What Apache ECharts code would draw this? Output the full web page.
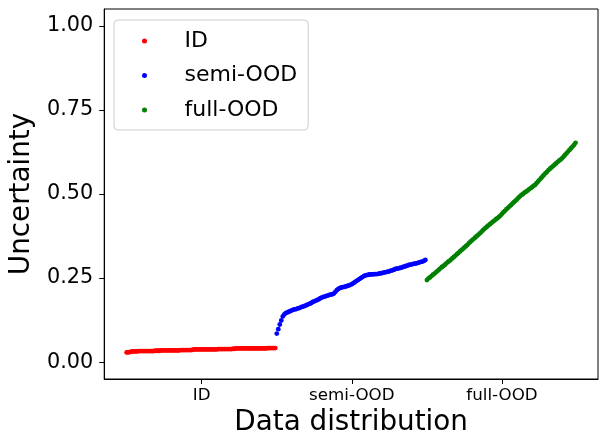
<!DOCTYPE html>
<html>
<head>
<meta charset="utf-8">
<script src="https://cdn.jsdelivr.net/npm/echarts@6/dist/echarts.min.js"></script>
<style>
    html, body { margin: 0; padding: 0; background: #fff; }
    #chart { width: 608px; height: 447px; }
</style>
</head>
<body>
<div id="chart"></div>
<script>
// uncertainty per sample (100 samples each, sorted)
const idValues = [
    0.029, 0.029, 0.030, 0.031, 0.032, 0.032, 0.032, 0.032, 0.033, 0.033,
    0.033, 0.033, 0.033, 0.033, 0.033, 0.033, 0.033, 0.033, 0.033, 0.034,
    0.034, 0.034, 0.034, 0.035, 0.035, 0.035, 0.035, 0.035, 0.035, 0.035,
    0.035, 0.035, 0.035, 0.035, 0.035, 0.035, 0.036, 0.036, 0.036, 0.036,
    0.036, 0.036, 0.036, 0.036, 0.037, 0.038, 0.038, 0.038, 0.038, 0.038,
    0.038, 0.038, 0.038, 0.038, 0.038, 0.038, 0.038, 0.038, 0.038, 0.038,
    0.038, 0.039, 0.039, 0.039, 0.039, 0.039, 0.039, 0.039, 0.039, 0.039,
    0.039, 0.040, 0.040, 0.041, 0.041, 0.041, 0.041, 0.041, 0.041, 0.041,
    0.041, 0.041, 0.041, 0.041, 0.041, 0.041, 0.041, 0.041, 0.041, 0.041,
    0.041, 0.041, 0.041, 0.041, 0.042, 0.042, 0.042, 0.042, 0.042, 0.042
];
const semiValues = [
    0.085, 0.098, 0.112, 0.124, 0.136, 0.142, 0.146, 0.148, 0.150, 0.152,
    0.154, 0.156, 0.157, 0.158, 0.160, 0.161, 0.163, 0.165, 0.166, 0.168,
    0.170, 0.172, 0.174, 0.176, 0.179, 0.181, 0.183, 0.185, 0.187, 0.190,
    0.192, 0.194, 0.195, 0.197, 0.198, 0.200, 0.201, 0.202, 0.204, 0.209,
    0.214, 0.218, 0.220, 0.222, 0.223, 0.224, 0.225, 0.227, 0.228, 0.230,
    0.232, 0.235, 0.238, 0.241, 0.244, 0.247, 0.250, 0.253, 0.256, 0.258,
    0.259, 0.260, 0.261, 0.261, 0.261, 0.262, 0.262, 0.262, 0.263, 0.264,
    0.265, 0.266, 0.267, 0.268, 0.269, 0.270, 0.272, 0.273, 0.275, 0.277,
    0.278, 0.279, 0.280, 0.281, 0.283, 0.284, 0.286, 0.287, 0.289, 0.290,
    0.291, 0.292, 0.293, 0.294, 0.295, 0.297, 0.298, 0.299, 0.301, 0.304
];
const fullValues = [
    0.244, 0.249, 0.252, 0.256, 0.260, 0.263, 0.267, 0.271, 0.275, 0.279,
    0.283, 0.286, 0.290, 0.294, 0.298, 0.301, 0.305, 0.309, 0.313, 0.317,
    0.321, 0.325, 0.329, 0.333, 0.337, 0.341, 0.345, 0.349, 0.354, 0.358,
    0.362, 0.366, 0.370, 0.374, 0.378, 0.382, 0.386, 0.391, 0.395, 0.399,
    0.403, 0.407, 0.410, 0.414, 0.418, 0.421, 0.425, 0.428, 0.432, 0.436,
    0.441, 0.446, 0.450, 0.455, 0.459, 0.463, 0.467, 0.472, 0.476, 0.480,
    0.484, 0.489, 0.493, 0.497, 0.500, 0.504, 0.507, 0.510, 0.514, 0.517,
    0.520, 0.524, 0.527, 0.532, 0.537, 0.542, 0.547, 0.552, 0.557, 0.562,
    0.566, 0.571, 0.575, 0.579, 0.583, 0.587, 0.591, 0.595, 0.599, 0.602,
    0.606, 0.611, 0.616, 0.621, 0.626, 0.631, 0.636, 0.641, 0.646, 0.652
];

const seriesNames = ['ID', 'semi-OOD', 'full-OOD'];
const seriesColors = ['#ff0000', '#0000ff', '#008000'];

// x ticks sit in the middle of each group of samples
const xTickValues = [50, 150, 250];
const xTickLabels = ['ID', 'semi-OOD', 'full-OOD'];
const yTickValues = [0, 0.25, 0.5, 0.75, 1.0];

const FONT = 'DejaVu Sans';

// samples are numbered one after another across the three groups
function toPoints(values, start) {
    return values.map((v, i) => [start + i, v]);
}

const groups = [
    toPoints(idValues, 0),
    toPoints(semiValues, idValues.length),
    toPoints(fullValues, idValues.length + semiValues.length)
];
const total = idValues.length + semiValues.length + fullValues.length;
const xPad = (total - 1) * 0.05;

const chart = echarts.init(document.getElementById('chart'), null, {renderer: 'canvas'});

const option = {
    animation: false,
    backgroundColor: '#ffffff',
    textStyle: {fontFamily: FONT},
    grid: {
        left: 103,
        right: 10,
        top: 9,
        bottom: 68,
        show: true,
        borderColor: '#000000',
        borderWidth: 1,
        backgroundColor: 'transparent',
    },
    legend: {
        orient: 'vertical',
        left: 114,
        top: 20,
        data: seriesNames,
        icon: 'circle',
        itemWidth: 56,
        itemHeight: 5,
        itemGap: 10.5,
        padding: [9, 11, 8, 28],
        backgroundColor: 'rgba(255,255,255,0.8)',
        borderColor: '#cccccc',
        borderWidth: 1,
        borderRadius: 4,
        textStyle: {
            fontFamily: FONT,
            fontSize: 22,
            lineHeight: 24,
            color: '#000000',
            padding: [0, 0, 0, 7],
        },
    },
    xAxis: {
        type: 'value',
        min: -xPad,
        max: total - 1 + xPad,
        name: 'Data distribution',
        nameLocation: 'middle',
        nameGap: 27,
        nameTextStyle: {fontFamily: FONT, fontSize: 27.8, color: '#000000'},
        axisLine: {onZero: false, lineStyle: {color: '#000000', width: 1}},
        axisTick: {show: true, customValues: xTickValues, length: 5, lineStyle: {color: '#000000'}},
        axisLabel: {
            customValues: xTickValues,
            formatter: (v) => xTickLabels[xTickValues.indexOf(v)] || '',
            fontFamily: FONT,
            fontSize: 16.7,
            color: '#000000',
            margin: 8,
        },
        splitLine: {show: false},
    },
    yAxis: {
        type: 'value',
        min: -0.05,
        max: 1.05,
        name: 'Uncertainty',
        nameLocation: 'middle',
        nameGap: 55,
        nameTextStyle: {fontFamily: FONT, fontSize: 27.8, color: '#000000'},
        axisLine: {show: true, onZero: false, lineStyle: {color: '#000000', width: 1}},
        axisTick: {show: true, customValues: yTickValues, length: 5, lineStyle: {color: '#000000'}},
        axisLabel: {
            customValues: yTickValues,
            formatter: (v) => v.toFixed(2),
            fontFamily: FONT,
            fontSize: 20.8,
            color: '#000000',
            margin: 11,
        },
        splitLine: {show: false},
    },
    series: seriesNames.map((name, k) => ({
        name: name,
        type: 'scatter',
        data: groups[k],
        symbol: 'circle',
        symbolSize: 4.8,
        itemStyle: {color: seriesColors[k], opacity: 1},
    })),
};

chart.setOption(option);
</script>
</body>
</html>
